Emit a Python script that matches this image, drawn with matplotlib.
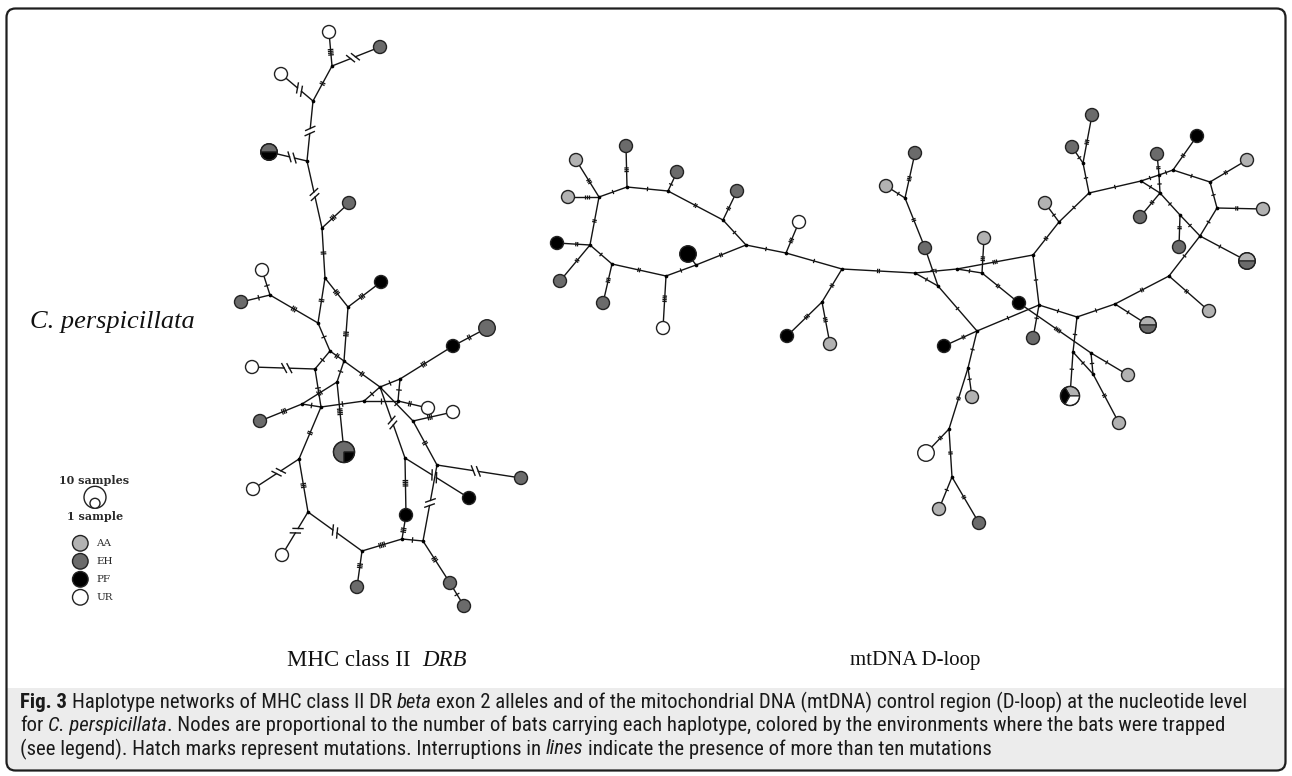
import numpy as np
import matplotlib
matplotlib.use('Agg')
import matplotlib.pyplot as plt
from matplotlib import font_manager
from matplotlib.patches import Circle, Wedge, FancyBboxPatch, Rectangle

W, H = 1292, 776
SERIF = 'Liberation Serif'
LEG_SERIF = 'DejaVu Serif'


def pick_caption_font():
    cands = set()
    for f in font_manager.fontManager.ttflist:
        if str(f.stretch) in ('condensed', 'semi-condensed', 'extra-condensed', 'ultra-condensed') \
                and 'Mono' not in f.name and 'Serif' not in f.name and 'CJK' not in f.name:
            cands.add(f.name)
    for pref in ['Liberation Sans Narrow', 'Roboto Condensed', 'Open Sans Condensed',
                 'Noto Sans', 'Open Sans', 'DejaVu Sans', 'Roboto', 'Inter', 'Lato']:
        if pref in cands:
            return pref, 'condensed'
    if cands:
        return sorted(cands)[0], 'condensed'
    return 'Liberation Sans', 'normal'


CAP_FONT, CAP_STRETCH = pick_caption_font()

ENV_COLORS = {'AA': '#b2b2b2', 'EH': '#6b6b6b', 'PF': '#000000', 'UR': '#ffffff'}
legend_envs = ['AA', 'EH', 'PF', 'UR']

# ---------------- MHC class II DRB network ----------------
# haplotypes (one env entry per sampled bat)
mhc_hap_names = ['w1', 'e1', 'w2', 'big1', 'e2', 'w3', 'e3', 'p1', 'p2', 'e4', 'w4', 'e5',
                 'w5', 'w6', 'pie', 'w7', 'e6', 'p3', 'p4', 'w8', 'e7', 'e8', 'e9']
mhc_hap_x = [329, 380, 281, 269, 349, 262, 241, 381, 453, 487, 252, 260,
             428, 453, 344, 253, 521, 469, 406, 282, 357, 450, 464]
mhc_hap_y = [32, 47, 74, 152, 203, 270, 302, 282, 346, 328, 367, 421,
             408, 412, 452, 489, 478, 498, 515, 555, 587, 583, 606]
mhc_hap_env = ['UR', 'EH', 'UR', 'EH PF', 'EH', 'UR', 'EH', 'PF', 'PF', 'EH EH', 'UR', 'EH',
               'UR', 'UR', 'EH EH EH PF', 'UR', 'EH', 'PF', 'PF', 'UR', 'EH', 'EH', 'EH']
# median vectors
mhc_mv_names = list('ABCDEFGHIJKLMNOPQRSTUVWXYZ')
mhc_mv_x = [332, 313, 307, 322, 325, 270, 318, 348, 330, 344, 315, 337, 380,
            400, 398, 364, 302, 321, 299, 405, 437, 413, 308, 362, 402, 423]
mhc_mv_y = [66, 101, 161, 228, 278, 295, 323, 307, 351, 361, 369, 382, 387,
            379, 401, 401, 404, 407, 459, 458, 465, 421, 512, 551, 539, 541]
# links and number of mutations (>10 drawn as an interruption)
mhc_from = ['w1', 'A', 'A', 'w2', 'B', 'big1', 'C', 'D', 'D', 'E', 'F', 'F', 'F', 'E', 'H',
            'G', 'H', 'I', 'I', 'K', 'J', 'J', 'M', 'N', 'p2', 'N', 'M', 'L', 'Q', 'K', 'Q',
            'R', 'P', 'O', 'M', 'V', 'V', 'M', 'L', 'R', 'S', 'T', 'U', 'T', 'S', 'W', 'W',
            'X', 'X', 'Y', 'Y', 'U', 'Z', 'e8']
mhc_to = ['A', 'e1', 'B', 'B', 'C', 'C', 'D', 'e2', 'E', 'G', 'w3', 'e3', 'G', 'H', 'p1',
          'I', 'J', 'J', 'K', 'w4', 'L', 'M', 'N', 'p2', 'e4', 'O', 'P', 'Q', 'e5', 'R', 'R',
          'P', 'O', 'w5', 'V', 'w6', 'U', 'T', 'pie', 'S', 'w7', 'p3', 'e6', 'p4', 'W', 'w8', 'X',
          'e7', 'Y', 'p4', 'Z', 'Z', 'e8', 'e9']
mhc_mut = [4, 12, 2, 12, 12, 12, 12, 3, 2, 2, 1, 1, 3, 3, 3,
           1, 3, 2, 1, 12, 1, 2, 1, 3, 2, 1, 1, 3, 3, 1, 1,
           1, 1, 2, 1, 3, 2, 12, 4, 2, 12, 12, 12, 4, 3, 12, 12,
           3, 4, 3, 1, 12, 3, 1]

# ---------------- mtDNA D-loop network ----------------
mt_hap_names = ['A1', 'E1', 'A2', 'E2', 'E3', 'U1', 'P1', 'E4', 'E5', 'U2', 'P2', 'P3', 'A3',
                'A4', 'E6', 'E7', 'A5', 'A6', 'E8', 'E9', 'P4', 'E10', 'A7', 'A8', 'E11', 'E12',
                'H1', 'P5', 'E13', 'P6', 'H2', 'A9', 'A10', 'Q1', 'A11', 'A12', 'U3', 'A13', 'E14']
mt_hap_x = [576, 626, 568, 677, 737, 799, 557, 560, 603, 663, 688, 787, 830,
            886, 915, 925, 984, 1045, 1072, 1092, 1197, 1157, 1247, 1263, 1140, 1179,
            1247, 1019, 1033, 944, 1148, 1209, 1128, 1070, 1119, 972, 926, 939, 979]
mt_hap_y = [160, 146, 197, 172, 191, 222, 243, 281, 303, 328, 254, 336, 344,
            186, 153, 248, 238, 203, 147, 115, 136, 154, 160, 209, 217, 247,
            261, 303, 338, 346, 325, 311, 375, 396, 423, 397, 453, 509, 523]
mt_hap_env = ['AA', 'EH', 'AA', 'EH', 'EH', 'UR', 'PF', 'EH', 'EH', 'UR', 'PF PF', 'PF', 'AA',
              'AA', 'EH', 'EH', 'AA', 'AA', 'EH', 'EH', 'PF', 'EH', 'AA', 'AA', 'EH', 'EH',
              'AA EH', 'PF', 'EH', 'PF', 'AA EH', 'AA', 'AA', 'AA PF UR', 'AA', 'AA', 'UR UR', 'AA', 'EH']
mt_mv_names = ['j%d' % i for i in range(1, 41)]
mt_mv_x = [599, 627, 668, 723, 746, 786, 842, 822, 590, 612, 666, 696,
           905, 938, 915, 957, 982, 1033, 1039, 977, 1077, 1115, 1169, 1059, 1089, 1083,
           1141, 1173, 1160, 1180, 1210, 1217, 1200, 1073, 1091, 1093, 968, 949, 952, 1159]
mt_mv_y = [197, 187, 191, 220, 245, 253, 269, 302, 245, 264, 276, 265,
           198, 286, 273, 269, 273, 255, 305, 331, 317, 304, 276, 222, 193, 163,
           181, 170, 193, 215, 182, 208, 236, 352, 353, 374, 368, 429, 477, 175]
mt_from = ['A1', 'E1', 'A2', 'j1', 'j2', 'j3', 'j3', 'j4', 'j4', 'j5', 'j6', 'j6', 'j7', 'j7',
           'j8', 'j8', 'j1', 'j9', 'j9', 'j9', 'j10', 'j10', 'j11', 'j11', 'j12', 'j12',
           'j13', 'j13', 'j13', 'E7', 'j15', 'j15', 'j16', 'j16', 'j17', 'j17', 'P5', 'j35',
           'j18', 'j18', 'j24', 'j24', 'j25', 'j26', 'j26', 'j25', 'j27', 'j40', 'j40', 'j40',
           'j27', 'j28', 'j28', 'j31', 'j31', 'j32', 'j32', 'j29', 'j29', 'j30', 'j30', 'j33',
           'j33', 'j23', 'j23', 'j22', 'j22', 'j21', 'j19', 'j19', 'j14', 'j20', 'j20', 'j37',
           'j37', 'j38', 'j38', 'j39', 'j39', 'j21', 'j34', 'j34', 'j35', 'j36']
mt_to = ['j1', 'j2', 'j1', 'j2', 'j3', 'E2', 'j4', 'E3', 'j5', 'j6', 'U1', 'j7', 'j15', 'j8',
         'P3', 'A3', 'j9', 'P1', 'E4', 'j10', 'E5', 'j11', 'U2', 'j12', 'P2', 'j5',
         'E6', 'A4', 'E7', 'j14', 'j14', 'j16', 'j18', 'j17', 'A5', 'P5', 'j35', 'A10',
         'j19', 'j24', 'A6', 'j25', 'j26', 'E8', 'E9', 'j27', 'j40', 'j28', 'E10', 'j29',
         'j29', 'P4', 'j31', 'A7', 'j32', 'A8', 'j33', 'E11', 'j30', 'E12', 'j33', 'H1',
         'j23', 'A9', 'j22', 'H2', 'j21', 'j19', 'E13', 'j20', 'j20', 'P6', 'j37', 'A12',
         'j38', 'U3', 'j39', 'A13', 'E14', 'j34', 'Q1', 'j36', 'j36', 'A11']
mt_mut = [3, 3, 3, 1, 1, 1, 2, 2, 1, 1, 3, 1, 2, 2,
          3, 3, 2, 2, 2, 1, 3, 2, 4, 1, 0, 2,
          3, 1, 2, 1, 1, 1, 3, 1, 3, 2, 4, 1,
          1, 2, 1, 1, 1, 1, 3, 1, 1, 1, 2, 1,
          1, 2, 1, 2, 1, 2, 1, 2, 1, 2, 1, 1,
          1, 2, 2, 1, 1, 1, 1, 1, 1, 2, 1, 1,
          2, 2, 2, 1, 2, 1, 1, 1, 1, 2]

caption_lines = [
    [('Fig. 3', 'bold'), (' Haplotype networks of MHC class II DR ', 'normal'), ('beta', 'italic'),
     (' exon 2 alleles and of the mitochondrial DNA (mtDNA) control region (D-loop) at the nucleotide level', 'normal')],
    [('for ', 'normal'), ('C. perspicillata', 'italic'),
     ('. Nodes are proportional to the number of bats carrying each haplotype, colored by the environments where the bats were trapped', 'normal')],
    [('(see legend). Hatch marks represent mutations. Interruptions in ', 'normal'), ('lines', 'italic'),
     (' indicate the presence of more than ten mutations', 'normal')],
]

LINE_C = '#141414'
EDGE_C = '#222222'
STYLES = {'normal': dict(), 'bold': dict(fontweight='bold'), 'italic': dict(fontstyle='italic')}


def node_radius(n):
    return 6.5 * n ** 0.35


def draw_edge(ax, p, q, rp, rq, nmut, half_tick):
    d = q - p
    u = d / np.hypot(*d)
    v = np.array([-u[1], u[0]])
    mid = ((p + u * rp) + (q - u * rq)) / 2
    if nmut > 10:
        g = 2.6
        a, b = mid - u * g, mid + u * g
        ax.plot([p[0], a[0]], [p[1], a[1]], color=LINE_C, lw=1.0, zorder=1)
        ax.plot([b[0], q[0]], [b[1], q[1]], color=LINE_C, lw=1.0, zorder=1)
        s = np.cos(np.radians(60)) * u + np.sin(np.radians(60)) * v
        for c in (a, b):
            ax.plot([c[0] - 5 * s[0], c[0] + 5 * s[0]], [c[1] - 5 * s[1], c[1] + 5 * s[1]],
                    color=LINE_C, lw=1.0, zorder=2)
        return
    ax.plot([p[0], q[0]], [p[1], q[1]], color=LINE_C, lw=1.0, zorder=1)
    for k in range(nmut):
        c = mid + u * (k - (nmut - 1) / 2) * 1.8
        ax.plot([c[0] - half_tick * v[0], c[0] + half_tick * v[0]],
                [c[1] - half_tick * v[1], c[1] + half_tick * v[1]],
                color=LINE_C, lw=0.9, zorder=2, solid_capstyle='butt')


def draw_node(ax, x, y, env):
    parts = env.split()
    r = node_radius(len(parts))
    if len(set(parts)) == 1:
        ax.add_patch(Circle((x, y), r, fc=ENV_COLORS[parts[0]], ec=EDGE_C, lw=1.0, zorder=4))
        return
    step = 360 / len(parts)
    i = 0
    while i < len(parts):
        j = i
        while j < len(parts) and parts[j] == parts[i]:
            j += 1
        # screen counter-clockwise angles -> data angles (y axis inverted)
        ax.add_patch(Wedge((x, y), r, -j * step, -i * step, fc=ENV_COLORS[parts[i]],
                           ec=EDGE_C, lw=0.8, zorder=4))
        i = j
    ax.add_patch(Circle((x, y), r, fc='none', ec=EDGE_C, lw=1.0, zorder=5))


def draw_network(ax, hn, hx, hy, he, mn, mx, my, efrom, eto, emut, half_tick):
    pos, rad = {}, {}
    for n, x, y, e in zip(hn, hx, hy, he):
        pos[n] = np.array([x, y], float)
        rad[n] = node_radius(len(e.split()))
    for n, x, y in zip(mn, mx, my):
        pos[n] = np.array([x, y], float)
        rad[n] = 0.0
    for a, b, m in zip(efrom, eto, emut):
        draw_edge(ax, pos[a], pos[b], rad[a], rad[b], m, half_tick)
    ax.scatter(mx, my, s=7, c='k', lw=0, zorder=3)
    for n, x, y, e in zip(hn, hx, hy, he):
        draw_node(ax, x, y, e)


def text_width(ax, renderer, s, **kw):
    t = ax.text(0, 0, s, **kw)
    w = t.get_window_extent(renderer).width
    t.remove()
    return w


def layout_runs(ax, renderer, runs, **kw):
    sp = text_width(ax, renderer, 'a a', **kw) - text_width(ax, renderer, 'aa', **kw)
    pieces, total = [], 0
    for s, st in runs:
        lead = len(s) - len(s.lstrip(' '))
        trail = len(s) - len(s.rstrip(' '))
        core = s.strip(' ')
        w = text_width(ax, renderer, core, **kw, **STYLES[st])
        pieces.append((lead * sp, core, st, w, trail * sp))
        total += lead * sp + w + trail * sp
    return pieces, total


def draw_runs(ax, renderer, x, y, runs, ha='left', **kw):
    pieces, total = layout_runs(ax, renderer, runs, **kw)
    if ha == 'center':
        x -= total / 2
    for lead, core, st, w, trail in pieces:
        x += lead
        ax.text(x, y, core, ha='left', va='center', **kw, **STYLES[st])
        x += w + trail


fig = plt.figure(figsize=(W / 100, H / 100), dpi=100)
ax = fig.add_axes([0, 0, 1, 1])
ax.set_xlim(0, W)
ax.set_ylim(H, 0)
ax.axis('off')
renderer = fig.canvas.get_renderer()

frame = FancyBboxPatch((6.5, 8.5), 1279, 762, boxstyle='round,pad=0,rounding_size=9',
                       fc='none', ec='#1e1e1e', lw=1.6, zorder=10)
ax.add_patch(frame)
band = Rectangle((0, 688), W, 90, fc='#ececec', ec='none', zorder=0)
ax.add_patch(band)
band.set_clip_path(frame)

draw_network(ax, mhc_hap_names, mhc_hap_x, mhc_hap_y, mhc_hap_env,
             mhc_mv_names, mhc_mv_x, mhc_mv_y, mhc_from, mhc_to, mhc_mut, 2.8)
draw_network(ax, mt_hap_names, mt_hap_x, mt_hap_y, mt_hap_env,
             mt_mv_names, mt_mv_x, mt_mv_y, mt_from, mt_to, mt_mut, 2.2)

# labels
ax.text(112, 322, 'C. perspicillata', fontfamily=SERIF, fontstyle='italic', fontsize=19,
        ha='center', va='center', color='#111')
draw_runs(ax, renderer, 377, 661, [('MHC class II  ', 'normal'), ('DRB', 'italic')], ha='center',
          fontfamily=SERIF, fontsize=16.5, color='#111')
ax.text(915, 661, 'mtDNA D-loop', fontfamily=SERIF, fontsize=15, ha='center', va='center', color='#111')

# legend
ax.text(94, 480, '10 samples', fontfamily=LEG_SERIF, fontsize=8, fontweight='bold',
        ha='center', va='center', color='#2a2a2a')
ax.add_patch(Circle((95, 497.3), 11, fc='white', ec=EDGE_C, lw=1.0, zorder=4))
ax.add_patch(Circle((95, 503.3), 5, fc='white', ec=EDGE_C, lw=1.0, zorder=5))
ax.text(95, 517, '1 sample', fontfamily=LEG_SERIF, fontsize=8, fontweight='bold',
        ha='center', va='center', color='#2a2a2a')
for k, env in enumerate(legend_envs):
    yy = 543.3 + k * 18
    ax.add_patch(Circle((80.3, yy), 7.8, fc=ENV_COLORS[env], ec=EDGE_C, lw=1.0, zorder=4))
    ax.text(96.5, yy, env, fontfamily=LEG_SERIF, fontsize=7.5, ha='left', va='center', color='#2a2a2a')

# caption, sized so the first line spans the box
cap_kw = dict(fontfamily=CAP_FONT, fontstretch=CAP_STRETCH, color='#1a1a1a')
_, w1 = layout_runs(ax, renderer, caption_lines[0], fontsize=12, **cap_kw)
cap_size = 12 * 1226 / w1
for k, line in enumerate(caption_lines):
    draw_runs(ax, renderer, 20, 702 + k * 23.5, line, fontsize=cap_size, **cap_kw)

fig.savefig('out.png', dpi=100)
